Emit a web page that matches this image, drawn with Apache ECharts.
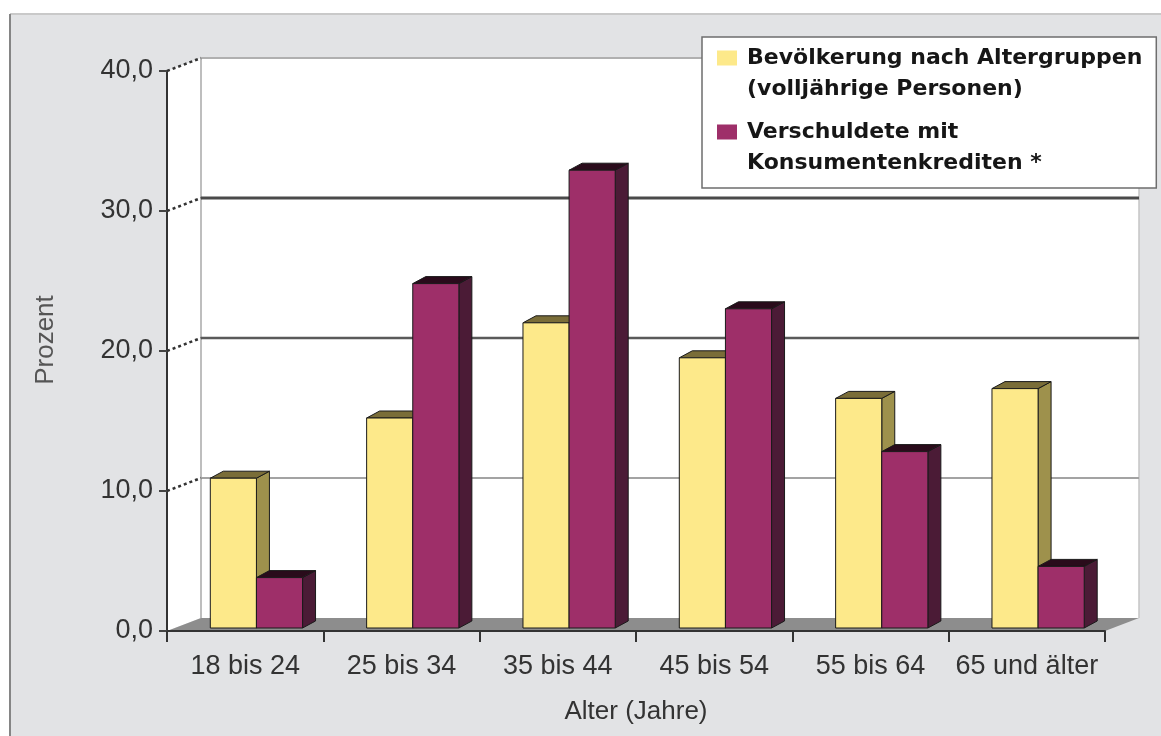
<!DOCTYPE html>
<html><head><meta charset="utf-8">
<script src="https://cdn.jsdelivr.net/npm/echarts@6/dist/echarts.min.js"></script>
<style>html,body{margin:0;padding:0;background:#fff}#c{width:1161px;height:736px}</style>
</head><body><div id="c"></div>
<script>
// ---------- data ----------
const categories = ['18 bis 24', '25 bis 34', '35 bis 44', '45 bis 54', '55 bis 64', '65 und älter'];
const seriesNames = ['Bevölkerung nach Altergruppen\n(volljährige Personen)', 'Verschuldete mit\nKonsumentenkrediten *'];
const bevoelkerung = [10.7, 15.0, 21.8, 19.3, 16.4, 17.1];
const verschuldete = [3.6, 24.6, 32.7, 22.8, 12.6, 4.4];
const yTicks = [0, 10, 20, 30, 40];
const yAxisName = 'Prozent';
const xAxisName = 'Alter (Jahre)';

// ---------- styling (3D look) ----------
const DX = 34, DY = -13;           // depth of the chart box
const BDX = 13, BDY = -7;          // depth of each bar
const BAR_FRAC = 0.295, GROUP_SHIFT = 0.072, LIFT = 3;
const GRID_STYLES = [null, {c: '#a3a3a3', w: 2}, {c: '#5a5a5a', w: 2.5}, {c: '#4a4a4a', w: 3}, {c: '#b0b0b0', w: 2}];
const COLORS = [
  {front: '#fde98a', side: '#9e914c', top: '#7a6d38'},
  {front: '#9e2f69', side: '#4b1b36', top: '#2a0b1b'}
];

function renderFrame(params, api) {
  const cs = params.coordSys;
  const xL = cs.x, xR = cs.x + cs.width;
  const yB = api.coord([0, yTicks[0]])[1];
  const yT = api.coord([0, yTicks[yTicks.length - 1]])[1];
  const ch = [];
  ch.push({type: 'polygon', shape: {points: [[xL, yT], [xL + DX, yT + DY], [xL + DX, yB + DY], [xL, yB]]}, style: {fill: '#ffffff'}});
  ch.push({type: 'rect', shape: {x: xL + DX, y: yT + DY, width: cs.width, height: yB - yT}, style: {fill: '#ffffff'}});
  ch.push({type: 'polygon', shape: {points: [[xL, yB], [xL + DX, yB + DY], [xR + DX, yB + DY], [xR, yB]]}, style: {fill: '#8d8d8d'}});
  ch.push({type: 'line', shape: {x1: xL + DX, y1: yT + DY, x2: xL + DX, y2: yB + DY}, style: {stroke: '#a9a9a9', lineWidth: 1.5}});
  ch.push({type: 'line', shape: {x1: xR + DX, y1: yT + DY, x2: xR + DX, y2: yB + DY}, style: {stroke: '#c4c4c4', lineWidth: 1.5}});
  yTicks.forEach(function (v, k) {
    if (k === 0) return;
    const y = api.coord([0, v])[1];
    const st = GRID_STYLES[k];
    ch.push({type: 'line', shape: {x1: xL + DX, y1: y + DY, x2: xR + DX, y2: y + DY}, style: {stroke: st.c, lineWidth: st.w}});
    ch.push({type: 'line', shape: {x1: xL, y1: y, x2: xL + DX, y2: y + DY}, style: {stroke: '#333', lineWidth: 2.5, lineDash: [3, 3]}});
  });
  return {type: 'group', children: ch};
}

function makeBarRenderer(idx) {
  const col = COLORS[idx];
  return function (params, api) {
    const i = api.value(0), v = api.value(1);
    const base = api.coord([i, 0]);
    const top = api.coord([i, v]);
    const band = api.size([1, 0])[0];
    const bw = band * BAR_FRAC;
    const x0 = base[0] - bw + band * GROUP_SHIFT + idx * bw;
    const x1 = x0 + bw;
    const y0 = base[1] - LIFT, y1 = top[1] - LIFT;
    const stroke = {stroke: '#1a1a1a', lineWidth: 1};
    return {type: 'group', children: [
      {type: 'polygon', shape: {points: [[x1, y0], [x1 + BDX, y0 + BDY], [x1 + BDX, y1 + BDY], [x1, y1]]}, style: Object.assign({fill: col.side}, stroke)},
      {type: 'polygon', shape: {points: [[x0, y1], [x0 + BDX, y1 + BDY], [x1 + BDX, y1 + BDY], [x1, y1]]}, style: Object.assign({fill: col.top}, stroke)},
      {type: 'rect', shape: {x: x0, y: y1, width: bw, height: y0 - y1}, style: Object.assign({fill: col.front}, stroke)}
    ]};
  };
}

const chart = echarts.init(document.getElementById('c'), null, {renderer: 'canvas'});
const FONT = 'Liberation Sans, Arial, sans-serif';
chart.setOption({
  backgroundColor: '#ffffff',
  animation: false,
  graphic: [
    {type: 'rect', z: -10, shape: {x: 10, y: 14, width: 1151, height: 722}, style: {fill: '#e2e3e5'}},
    {type: 'line', z: -9, shape: {x1: 10, y1: 14, x2: 1161, y2: 14}, style: {stroke: '#c9c9c9', lineWidth: 2}},
    {type: 'line', z: -9, shape: {x1: 10, y1: 14, x2: 10, y2: 736}, style: {stroke: '#858585', lineWidth: 2}}
  ],
  grid: {left: 167, right: 56, top: 71, bottom: 105, containLabel: false},
  legend: {
    data: seriesNames,
    left: 702, top: 37,
    orient: 'vertical', align: 'left',
    padding: [5.5, 14, 9.5, 15],
    itemWidth: 20, itemHeight: 62, itemGap: 12,
    icon: 'path://M0,0L0.01,0L0,0.01ZM0,8L20,8L20,23L0,23ZM0,62L0.01,62L0,61.99Z',
    backgroundColor: '#ffffff', borderColor: '#6e6e6e', borderWidth: 1.5,
    selectedMode: false,
    textStyle: {fontFamily: 'DejaVu Sans', fontWeight: 'bold', fontSize: 22, lineHeight: 31, color: '#161616', padding: [0, 0, 0, 5]}
  },
  xAxis: {
    type: 'category', data: categories, z: 5,
    name: xAxisName, nameLocation: 'middle', nameGap: 68,
    nameTextStyle: {fontFamily: FONT, fontSize: 26, color: '#333'},
    axisLine: {lineStyle: {color: '#333', width: 2}},
    axisTick: {show: true, interval: 0, length: 11, lineStyle: {color: '#333', width: 2}},
    axisLabel: {interval: 0, fontFamily: FONT, fontSize: 27, color: '#333', margin: 22}
  },
  yAxis: {
    type: 'value', min: 0, max: 40, interval: 10, z: 5,
    name: yAxisName, nameLocation: 'middle', nameGap: 108, nameRotate: 90,
    nameTextStyle: {fontFamily: FONT, fontSize: 26, color: '#555', padding: [0, 0, 0, 22]},
    axisLine: {show: true, lineStyle: {color: '#333', width: 2}},
    axisTick: {show: true, length: 8, lineStyle: {color: '#444', width: 2}},
    splitLine: {show: false},
    axisLabel: {fontFamily: FONT, fontSize: 27, color: '#333', margin: 14,
      formatter: function (v) { return v.toFixed(1).replace('.', ','); }}
  },
  series: [
    {type: 'custom', name: '__frame', z: 1, renderItem: renderFrame, data: [[0, 0]], silent: true},
    {type: 'custom', name: seriesNames[0], z: 2, itemStyle: {color: COLORS[0].front},
      renderItem: makeBarRenderer(0), data: bevoelkerung.map(function (v, i) { return [i, v]; })},
    {type: 'custom', name: seriesNames[1], z: 2, itemStyle: {color: COLORS[1].front},
      renderItem: makeBarRenderer(1), data: verschuldete.map(function (v, i) { return [i, v]; })}
  ]
});
</script></body></html>
